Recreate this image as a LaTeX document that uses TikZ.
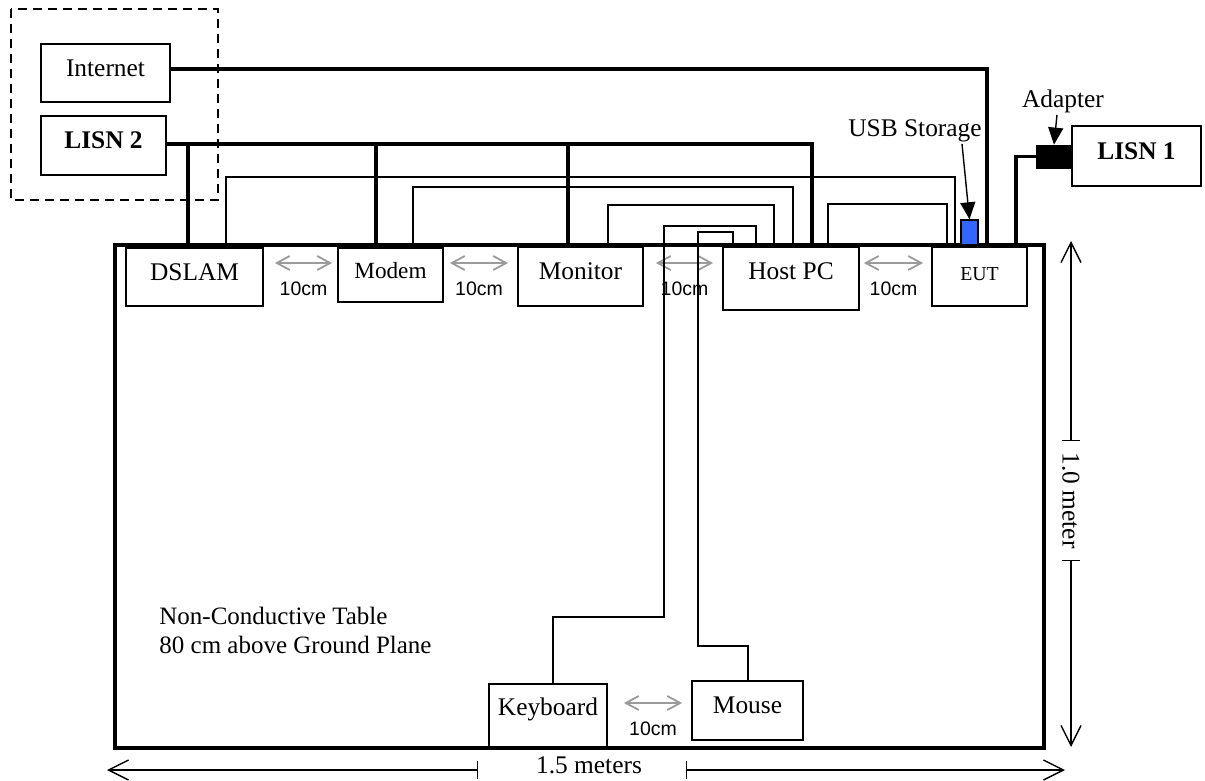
\documentclass[tikz,border=0pt]{standalone}
\usepackage{fontspec}
\setmainfont{Liberation Serif}
\setsansfont{Liberation Sans}
\usetikzlibrary{arrows.meta,calc}
\definecolor{gapgray}{RGB}{155,155,155}
\definecolor{usbblue}{RGB}{51,102,255}
\newcommand{\emcfont}{\fontsize{12.7}{15}\selectfont}
\tikzset{
 emc box/.style={draw,line width=.9pt,inner sep=0pt,font=\emcfont,text depth=5pt},
 box size/.style 2 args={minimum width=#1*.5pt,minimum height=#2*.5pt},
 emc power/.style={line width=1.7pt},
 emc signal/.style={line width=.8pt},
 emc gap/.style={gapgray,line width=.9pt,
   {Straight Barb[length=6.5pt,width=7pt]}-{Straight Barb[length=6.5pt,width=7pt]}},
 emc gap label/.style={text=black,font=\sffamily\fontsize{9.75}{11}\selectfont,inner sep=0pt},
 emc dim/.style={line width=.7pt,{Bar[width=9pt]}-{Straight Barb[length=10pt,width=10pt]}},
 emc pointer/.style={line width=.7pt,-{Triangle[length=8.5pt,width=7.5pt]}},
 emc label/.style={font=\emcfont,inner sep=.5pt}
}
\begin{document}
\begin{tikzpicture}[x=.5pt,y=-.5pt]
 \useasboundingbox (0,0) rectangle (1205,781);
 % table and outside units
 \coordinate (tblnw) at (115,245);
 \coordinate (tblse) at (1044,748);
 \draw[line width=1.7pt] (tblnw) rectangle (tblse);
 \draw[line width=.9pt,dash pattern=on 4.5pt off 3pt] (11,9) rectangle (218,200);

 \node[emc box,box size={129}{58}] (inet) at (105.5,73) {Internet};
 \node[emc box,box size={125}{59},font=\emcfont\bfseries] (lisn2) at (103.5,145.5) {LISN 2};
 \node[emc box,box size={129}{60},font=\emcfont\bfseries] (lisn1) at (1136.5,156) {LISN 1};
 \node[draw,fill=black,inner sep=0pt,box size={36}{23}] (adapter) at (1054,156.5) {};

 % units on the table
 \node[emc box,box size={137}{58}] (dslam) at (194.5,277) {DSLAM};
 \node[emc box,box size={105}{54},font=\fontsize{11.6}{14}\selectfont] (modem) at (390.5,275) {Modem};
 \node[emc box,box size={125}{59}] (monitor) at (580.5,276.5) {Monitor};
 \node[emc box,box size={136}{63},text depth=7pt] (hostpc) at (791,278.5) {Host PC};
 \node[emc box,box size={95}{59},font=\fontsize{9.9}{12}\selectfont,text depth=2pt] (eut) at (979.5,276.5) {EUT};
 \node[emc box,box size={118}{64},text depth=9pt] (keyboard) at (548,716) {Keyboard};
 \node[emc box,box size={111}{59}] (mouse) at (747.5,710.5) {Mouse};
 \node[draw,fill=usbblue,line width=.7pt,inner sep=0pt,box size={17}{25}] (usb) at (969.5,232.5) {};

 % 10cm spacing
 \foreach \l/\r/\gl/\gr/\y in {dslam/modem/11/5/263,modem/monitor/6/9/263,
     monitor/hostpc/12/9/263,hostpc/eut/4/8/263,keyboard/mouse/16/9/703}{
   \draw[emc gap] ($(\l.east |- 0,\y)+(\gl,0)$) -- ($(\r.west |- 0,\y)+(-\gr,0)$)
     node[emc gap label,midway,yshift=-13pt] {10cm};
 }

 % power cords
 \coordinate (pbus) at (0,144);
 \draw[emc power] (inet.east |- 0,69) -| (987,0 |- eut.north);
 \draw[emc power] (lisn2.east |- pbus) -| (812,0 |- hostpc.north);
 \foreach \d/\x in {dslam/188,modem/376,monitor/568}{
   \draw[emc power] (\x,0 |- pbus) -- (\x,0 |- \d.north);
 }
 \draw[emc power] (adapter.west) -| (1016,0 |- eut.north);

 % signal cables
 \draw[emc signal] (226,0 |- dslam.north) |- (955,177) -- (955,0 |- eut.north);
 \draw[emc signal] (413,0 |- modem.north) |- (793,187) -- (793,0 |- hostpc.north);
 \draw[emc signal] (608,0 |- monitor.north) |- (774,205) -- (774,0 |- hostpc.north);
 \draw[emc signal] (828,0 |- hostpc.north) |- (947,204) -- (947,0 |- eut.north);
 \draw[emc signal] (553,0 |- keyboard.north) |- (664,617) |- (756,226) -- (756,0 |- hostpc.north);
 \draw[emc signal] (748,0 |- mouse.north) |- (698,646) |- (733,232) -- (733,0 |- hostpc.north);

 % labels with pointers
 \node[emc label,anchor=base] (usblbl) at (915,137) {USB Storage};
 \node[emc label,anchor=base] (adaptlbl) at (1063,108) {Adapter};
 \draw[emc pointer] (962,0 |- usblbl.south) -- (usb.north);
 \draw[emc pointer] (1057,0 |- adaptlbl.south) -- (adapter.north);

 % table size
 \node[emc label,anchor=base] (wlbl) at (589,773) {1.5 meters};
 \draw[emc dim] (478,770) -- (107,770);
 \draw[emc dim] (686,770) -- (1065,770);
 \node[emc label,rotate=-90] (hlbl) at (1071,500.5) {1.0 meter};
 \draw[emc dim] (1071,441) -- (1071,241);
 \draw[emc dim] (1071,560) -- (1071,747);

 \node[emc label,align=left,anchor=west,font=\fontsize{12.5}{14.5}\selectfont] (note)
   at (158,630) {Non-Conductive Table\\80 cm above Ground Plane};
\end{tikzpicture}
\end{document}
